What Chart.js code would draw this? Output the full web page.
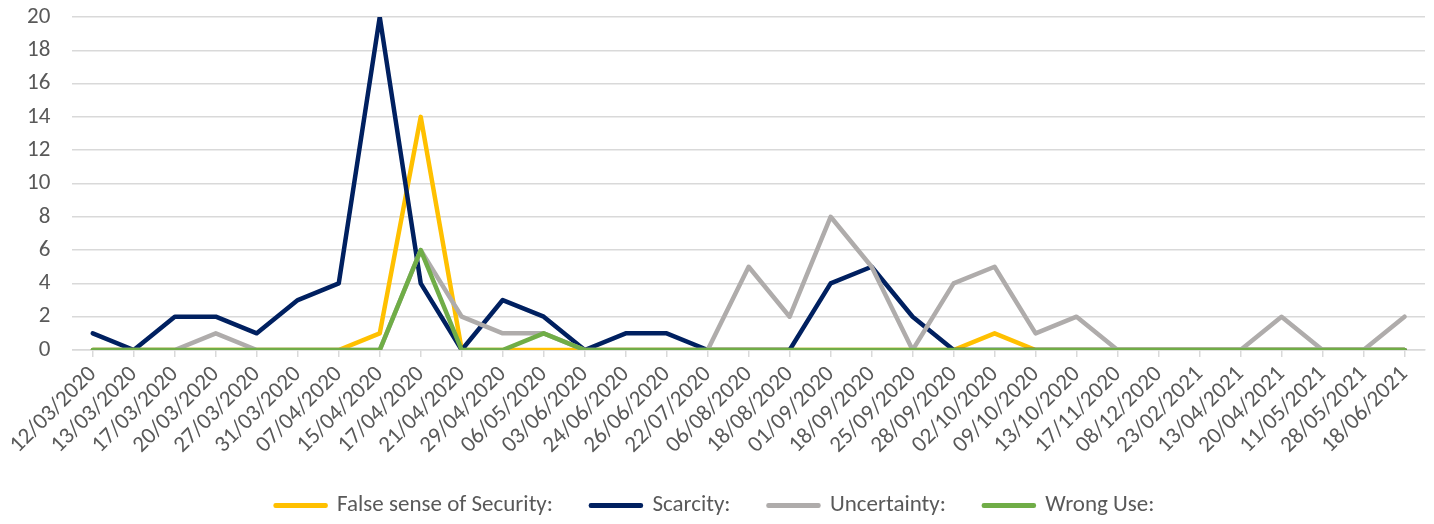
<html lang="en">
<head>
    <title>Themes over time</title>
    <style>
        body { margin: 0; background: #ffffff; }
        #wrap { width: 1434px; height: 524px; }
    </style>
</head>
<body>
    <div id="wrap"><canvas id="themeChart" width="1434" height="524"></canvas></div>

    <script src="https://cdn.jsdelivr.net/npm/chart.js"></script>
    <script>
        // categories (dates) and series
        const dates = ['12/03/2020', '13/03/2020', '17/03/2020', '20/03/2020', '27/03/2020', '31/03/2020',
            '07/04/2020', '15/04/2020', '17/04/2020', '21/04/2020', '29/04/2020', '06/05/2020',
            '03/06/2020', '24/06/2020', '26/06/2020', '22/07/2020', '06/08/2020', '18/08/2020',
            '01/09/2020', '18/09/2020', '25/09/2020', '28/09/2020', '02/10/2020', '09/10/2020',
            '13/10/2020', '17/11/2020', '08/12/2020', '23/02/2021', '13/04/2021', '20/04/2021',
            '11/05/2021', '28/05/2021', '18/06/2021'];

        const falseSense = [0, 0, 0, 0, 0, 0, 0, 1, 14, 0, 0, 0, 0, 0, 0, 0, 0, 0, 0, 0, 0, 0, 1, 0, 0, 0, 0, 0, 0, 0, 0, 0, 0];
        const scarcity = [1, 0, 2, 2, 1, 3, 4, 20, 4, 0, 3, 2, 0, 1, 1, 0, 0, 0, 4, 5, 2, 0, 0, 0, 0, 0, 0, 0, 0, 0, 0, 0, 0];
        const uncertainty = [0, 0, 0, 1, 0, 0, 0, 0, 6, 2, 1, 1, 0, 0, 0, 0, 5, 2, 8, 5, 0, 4, 5, 1, 2, 0, 0, 0, 0, 2, 0, 0, 2];
        const wrongUse = [0, 0, 0, 0, 0, 0, 0, 0, 6, 0, 0, 1, 0, 0, 0, 0, 0, 0, 0, 0, 0, 0, 0, 0, 0, 0, 0, 0, 0, 0, 0, 0, 0];

        const yTicks = [0, 2, 4, 6, 8, 10, 12, 14, 16, 18, 20];

        const FONT = "Carlito, 'Liberation Sans', sans-serif";
        const TEXT = '#595959';
        const GRID = '#d9d9d9';
        const LINE_W = 4.5;

        function line(label, data, colour, order) {
            return {
                label: label,
                data: data,
                borderColor: colour,
                backgroundColor: colour,
                borderWidth: LINE_W,
                borderJoinStyle: 'round',
                borderCapStyle: 'round',
                pointRadius: 0,
                fill: false,
                tension: 0,
                order: order
            };
        }

        const ctx = document.getElementById('themeChart');
        const themeChart = new Chart(ctx, {
            type: 'line',
            data: {
                labels: dates,
                datasets: [
                    line('False sense of Security:', falseSense, '#ffc000', 4),
                    line('Scarcity:', scarcity, '#002060', 3),
                    line('Uncertainty:', uncertainty, '#afacab', 2),
                    line('Wrong Use:', wrongUse, '#70ad47', 1)
                ]
            },
            options: {
                responsive: false,
                animation: false,
                elements: {
                    line: { borderWidth: LINE_W, borderJoinStyle: 'round', borderCapStyle: 'round' },
                    point: { radius: 0 }
                },
                layout: { padding: { left: 5, right: 9, top: 17, bottom: -3 } },
                plugins: {
                    tooltip: { enabled: false },
                    legend: {
                        position: 'bottom',
                        labels: {
                            // box is stroked with the line width, so keep it flat
                            boxWidth: 50,
                            boxHeight: 0.5,
                            padding: 38,
                            color: TEXT,
                            font: { family: FONT, size: 23 },
                            sort: function (a, b) { return a.datasetIndex - b.datasetIndex; }
                        }
                    }
                },
                scales: {
                    x: {
                        offset: true,
                        afterFit: function (scale) {
                            scale.paddingLeft = 0;
                            scale.paddingRight = 0;
                            scale.height = 106;
                        },
                        border: { display: true, color: GRID, width: 1.5 },
                        grid: {
                            drawOnChartArea: false,
                            drawTicks: true,
                            tickLength: 7,
                            color: GRID,
                            lineWidth: 1.5
                        },
                        ticks: {
                            autoSkip: false,
                            minRotation: 45,
                            maxRotation: 45,
                            padding: 4,
                            color: TEXT,
                            font: { family: FONT, size: 23 }
                        }
                    },
                    y: {
                        min: 0,
                        max: 20,
                        afterBuildTicks: function (scale) {
                            scale.ticks = yTicks.map(function (v) { return { value: v }; });
                        },
                        afterFit: function (scale) {
                            scale.paddingTop = 0;
                            scale.paddingBottom = 0;
                        },
                        border: { display: false },
                        grid: { color: GRID, lineWidth: 1.5, drawTicks: false },
                        ticks: {
                            padding: 22,
                            color: TEXT,
                            font: { family: FONT, size: 23 }
                        }
                    }
                }
            }
        });
    </script>
</body>
</html>
